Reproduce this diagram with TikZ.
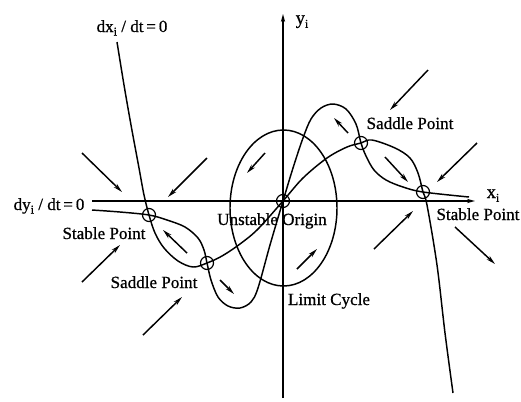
\documentclass[tikz,border=0pt]{standalone}
\usepackage{fontspec}
\setmainfont{Liberation Serif}
\newfontfamily\lblfont{Liberation Serif}[FakeBold=0.7]
\usetikzlibrary{arrows.meta,shapes.geometric}
\begin{document}
\begin{tikzpicture}[x=0.75pt,y=-0.75pt,
  curve/.style={line width=1.1pt, line join=round},
  axisline/.style={line width=1pt, -{Stealth[length=6pt,width=3.2pt]}},
  fieldarr/.style={line width=1.1pt, -{Stealth[length=7pt,width=3.4pt]}},
  eqpt/.style={circle, draw, line width=0.9pt, minimum size=9.75pt, inner sep=0pt},
  lbl/.style={font=\lblfont\fontsize{12.8}{15}\selectfont, inner sep=0pt, anchor=base}]
\useasboundingbox (0,0) rectangle (521,401);
% equilibrium points
\node[eqpt] (s1) at (149,215) {};
\node[eqpt] (s2) at (207,263) {};
\node[eqpt] (o)  at (283,201) {};
\node[eqpt] (s3) at (361,143) {};
\node[eqpt] (s4) at (423,192) {};
% axes
\coordinate (xa0) at (92,201);
\coordinate (xa1) at (475,201);
\coordinate (ya0) at (283,398);
\coordinate (ya1) at (283,14);
\draw[axisline] (xa0) -- (xa1);
\draw[axisline] (ya0) -- (ya1);
% limit cycle
\node[draw, ellipse, line width=1.1pt, minimum width=80.25pt, minimum height=117pt, inner sep=0pt] (lc) at (283.5,208) {};
% dy/dt = 0 nullcline
\draw[curve] plot[smooth, tension=0.55] coordinates {(92,210) (120,212) (s1.center) (167,220) (185,227) (198,238) (204,250) (s2.center) (211,280) (218,297) (228,306) (240,308) (251,302) (258,288) (270,245) (o.center) (293,168) (303,138) (311,119) (321,108) (333,104) (346,109) (356,124) (s3.center) (366,156) (374,170) (386,180) (403,187) (s4.center) (469,197)};
% dx/dt = 0 nullcline
\draw[curve] plot[smooth, tension=0.55] coordinates {(117,42) (124,85) (131,125) (139,168) (144,195) (s1.center) (155,233) (164,248) (178,261) (193,267) (s2.center) (222,256) (240,244) (258,229) (o.center) (303,178) (327,158) (347,147) (s3.center) (372,140) (395,148) (410,158) (418,173) (s4.center) (427,205) (437,265) (445,333) (453,393)};
% direction field arrows
\draw[fieldarr] (82,153) -- (122,192);
\draw[fieldarr] (207,158) -- (168,197);
\draw[fieldarr] (428,70) -- (390,110);
\draw[fieldarr] (477,143) -- (437,182);
\draw[fieldarr] (265,153) -- (247,173);
\draw[fieldarr] (348,133) -- (334,118);
\draw[fieldarr] (385,157) -- (408,182);
\draw[fieldarr] (187,253) -- (163,230);
\draw[fieldarr] (220,280) -- (234,294);
\draw[fieldarr] (82,282) -- (120,245);
\draw[fieldarr] (143,335) -- (182,297);
\draw[fieldarr] (374,249) -- (413,211);
\draw[fieldarr] (455,227) -- (495,264);
\draw[fieldarr] (297,269) -- (317,249);
% labels
\node[lbl] (dxl) at (132,32) {dx\raisebox{-0.45ex}{\fontsize{9}{10}\selectfont i} / dt\,=\,0};
\node[lbl] (dyl) at (49,210) {dy\raisebox{-0.45ex}{\fontsize{9}{10}\selectfont i} / dt\,=\,0};
\node[lbl] (sp1) at (104,239) {Stable Point};
\node[lbl] (sa1) at (154,288) {Saddle Point};
\node[lbl] (uo)  at (272,225) {Unstable Origin};
\node[lbl] (lcl) at (329,305) {Limit Cycle};
\node[lbl] (sa2) at (410,129) {Saddle Point};
\node[lbl] (sp2) at (478,220) {Stable Point};
\node[lbl] (xl)  at (493,198) {\fontsize{14}{16}\selectfont x\raisebox{-0.45ex}{\fontsize{9}{10}\selectfont i}};
\node[lbl] (yl)  at (302,24) {\fontsize{14}{16}\selectfont y\raisebox{-0.45ex}{\fontsize{9}{10}\selectfont i}};
\end{tikzpicture}
\end{document}
